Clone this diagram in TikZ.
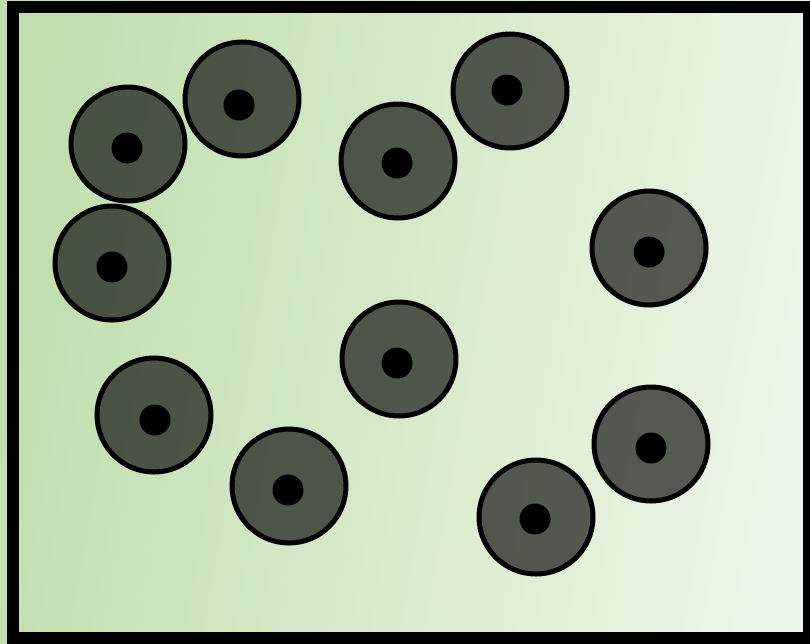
\documentclass[tikz,border=0pt]{standalone}
\begin{document}
\begin{tikzpicture}[x=1pt,y=-1pt,
  cell/.style={circle,draw=black,line width=5pt,fill=black,fill opacity=0.63,draw opacity=1,inner sep=0pt,minimum size=114pt},
  core/.style={circle,fill=black,inner sep=0pt,minimum size=31pt}]
\definecolor{bgleft}{RGB}{193,222,175}
\definecolor{bgright}{RGB}{236,246,230}
\useasboundingbox (0,0) rectangle (810,643);
\shade[left color=bgleft,right color=bgright,shading angle=80] (0,0) rectangle (810,643);
\draw[line width=12pt] (13,7) rectangle (809,638);
% cells
\foreach \n/\cx/\cy/\dx/\dy in {
  1/128/144/127/148,
  2/242/99/239/105,
  3/398/161/397/163,
  4/510/91/507/90,
  5/112/263/112/267,
  6/649/248/649/252,
  7/399/359/397/363,
  8/154/415/155/420,
  9/289/486/288/490,
  10/651/444/651/448,
  11/536/517/535/519}{
  \node[cell] (c\n) at (\cx,\cy) {};
  \node[core] (d\n) at (\dx,\dy) {};
}
\end{tikzpicture}
\end{document}
